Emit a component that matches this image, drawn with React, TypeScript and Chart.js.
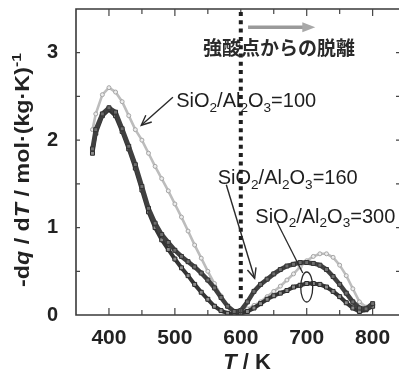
import React, { useEffect, useRef } from 'react';
import { Chart, registerables } from 'chart.js';

Chart.register(...registerables);

const temps = [375, 380, 390, 400, 410, 420, 430, 440, 450, 460, 470, 480, 490, 500, 510, 520, 530, 540, 550, 560, 570, 580, 590, 600, 610, 620, 630, 640, 650, 660, 670, 680, 690, 700, 710, 720, 730, 740, 750, 760, 770, 780, 790, 800];

const ratio100 = [2.12, 2.3, 2.52, 2.6, 2.55, 2.44, 2.28, 2.12, 2.0, 1.85, 1.7, 1.56, 1.42, 1.27, 1.12, 0.96, 0.8, 0.65, 0.5, 0.36, 0.22, 0.1, 0.04, 0.03, 0.07, 0.11, 0.15, 0.21, 0.27, 0.33, 0.4, 0.47, 0.55, 0.62, 0.67, 0.7, 0.7, 0.66, 0.57, 0.45, 0.3, 0.15, 0.09, 0.12];

const ratio160 = [1.9, 2.12, 2.3, 2.37, 2.32, 2.13, 1.93, 1.72, 1.47, 1.22, 1.05, 0.92, 0.83, 0.74, 0.67, 0.61, 0.55, 0.48, 0.4, 0.31, 0.2, 0.1, 0.04, 0.05, 0.15, 0.27, 0.35, 0.41, 0.47, 0.52, 0.56, 0.58, 0.6, 0.6, 0.59, 0.57, 0.52, 0.44, 0.35, 0.25, 0.15, 0.08, 0.07, 0.13];

const ratio300 = [1.85, 2.08, 2.28, 2.35, 2.28, 2.1, 1.9, 1.68, 1.43, 1.18, 1.0, 0.86, 0.75, 0.64, 0.54, 0.45, 0.35, 0.26, 0.18, 0.1, 0.05, 0.02, 0.01, 0.02, 0.04, 0.08, 0.13, 0.18, 0.22, 0.25, 0.28, 0.32, 0.34, 0.36, 0.36, 0.35, 0.32, 0.27, 0.21, 0.14, 0.08, 0.04, 0.06, 0.1];

const xTickLabels = [400, 500, 600, 700, 800];
const yTickLabels = [0, 1, 2, 3];
const boundaryT = 600;
const headerText = '強酸点からの脱離';

const FONT = "'Liberation Sans', Arial, Helvetica, sans-serif";
const CJK = "'Noto Sans CJK JP', 'Noto Sans CJK SC', sans-serif";

type Part = { t: string; it?: boolean; sub?: boolean; sup?: boolean };

function partFont(p: Part, size: number, bold: boolean) {
  const s = p.sub || p.sup ? size * 0.68 : size;
  return `${p.it ? 'italic ' : ''}${bold ? 'bold ' : ''}${s}px ${FONT}`;
}

function richWidth(ctx: CanvasRenderingContext2D, parts: Part[], size: number, bold: boolean) {
  let w = 0;
  for (const p of parts) {
    ctx.font = partFont(p, size, bold);
    w += ctx.measureText(p.t).width;
  }
  return w;
}

function drawRich(ctx: CanvasRenderingContext2D, parts: Part[], x: number, yMid: number, size: number, bold: boolean, color: string) {
  const base = yMid + size * 0.36;
  let cx = x;
  ctx.fillStyle = color;
  ctx.textAlign = 'left';
  ctx.textBaseline = 'alphabetic';
  for (const p of parts) {
    ctx.font = partFont(p, size, bold);
    let dy = 0;
    if (p.sub) dy = size * 0.24;
    if (p.sup) dy = -size * 0.42;
    ctx.fillText(p.t, cx, base + dy);
    cx += ctx.measureText(p.t).width;
  }
}

function ratioParts(n: string): Part[] {
  return [
    { t: 'SiO' }, { t: '2', sub: true }, { t: '/Al' }, { t: '2', sub: true },
    { t: 'O' }, { t: '3', sub: true }, { t: '=' + n },
  ];
}

function arrowLine(ctx: CanvasRenderingContext2D, x1: number, y1: number, x2: number, y2: number, head: boolean) {
  ctx.beginPath();
  ctx.moveTo(x1, y1);
  ctx.lineTo(x2, y2);
  ctx.stroke();
  if (head) {
    const a = Math.atan2(y2 - y1, x2 - x1);
    const L = 11, sp = 0.42;
    ctx.beginPath();
    ctx.moveTo(x2 - L * Math.cos(a - sp), y2 - L * Math.sin(a - sp));
    ctx.lineTo(x2, y2);
    ctx.lineTo(x2 - L * Math.cos(a + sp), y2 - L * Math.sin(a + sp));
    ctx.stroke();
  }
}

const overlay = {
  id: 'overlay',
  afterDraw(chart: any) {
    const { ctx, chartArea, scales } = chart;
    const { left, top, right, bottom } = chartArea;
    const xs = scales.x, ys = scales.y;
    const X = (v: number) => xs.getPixelForValue(v);
    const Y = (v: number) => ys.getPixelForValue(v);
    ctx.save();

    // frame
    ctx.strokeStyle = '#3a3a3a';
    ctx.lineWidth = 1.6;
    ctx.beginPath();
    ctx.moveTo(right, top);
    ctx.lineTo(left, top);
    ctx.lineTo(left, bottom);
    ctx.lineTo(right, bottom);
    ctx.stroke();

    // ticks
    ctx.lineWidth = 1.2;
    ctx.strokeStyle = '#444';
    for (let v = 400; v <= 800; v += 50) {
      const px = X(v);
      const L = v % 100 === 0 ? 7 : 5;
      ctx.beginPath();
      ctx.moveTo(px, bottom); ctx.lineTo(px, bottom - L);
      ctx.moveTo(px, top); ctx.lineTo(px, top + L);
      ctx.stroke();
    }
    for (let v = 0.5; v < 3.5; v += 0.5) {
      const py = Y(v);
      ctx.beginPath();
      ctx.moveTo(left, py); ctx.lineTo(left + 4, py);
      ctx.moveTo(right, py); ctx.lineTo(right - 3, py);
      ctx.stroke();
    }

    // dotted boundary line
    ctx.save();
    ctx.strokeStyle = '#1e1e1e';
    ctx.lineWidth = 4;
    ctx.setLineDash([4, 4.3]);
    ctx.beginPath();
    ctx.moveTo(X(boundaryT), top + 3);
    ctx.lineTo(X(boundaryT), Y(0.17));
    ctx.stroke();
    ctx.restore();

    // top arrow
    const ax1 = X(611), ax2 = X(713), ay = Y(3.29);
    ctx.strokeStyle = '#9a9a9a';
    ctx.lineWidth = 3.5;
    ctx.beginPath();
    ctx.moveTo(ax1, ay); ctx.lineTo(ax2 - 10, ay);
    ctx.stroke();
    ctx.fillStyle = '#a8a8a8';
    ctx.beginPath();
    ctx.moveTo(ax2 - 13, ay - 5);
    ctx.lineTo(ax2, ay);
    ctx.lineTo(ax2 - 13, ay + 5);
    ctx.closePath();
    ctx.fill();

    // header japanese text
    ctx.fillStyle = '#2a2a2a';
    ctx.font = `bold 19px ${CJK}`;
    ctx.textAlign = 'center';
    ctx.textBaseline = 'middle';
    ctx.fillText(headerText, X(658), Y(3.06));

    // annotations
    ctx.strokeStyle = '#2a2a2a';
    ctx.lineWidth = 1.4;
    drawRich(ctx, ratioParts('100'), X(502), Y(2.46), 20, false, '#1e1e1e');
    arrowLine(ctx, X(497), Y(2.49), X(449), Y(2.17), true);
    drawRich(ctx, ratioParts('160'), X(565), Y(1.58), 20, false, '#1e1e1e');
    ctx.strokeStyle = '#2a2a2a';
    ctx.lineWidth = 1.4;
    arrowLine(ctx, X(578), Y(1.49), X(621), Y(0.42), true);
    drawRich(ctx, ratioParts('300'), X(622), Y(1.14), 20, false, '#1e1e1e');
    ctx.strokeStyle = '#2a2a2a';
    ctx.lineWidth = 1.3;
    arrowLine(ctx, X(655), Y(1.06), X(694), Y(0.48), false);
    ctx.beginPath();
    ctx.ellipse(X(700), Y(0.32), 6, 15, 0, 0, Math.PI * 2);
    ctx.stroke();

    // y title
    const yParts: Part[] = [
      { t: '-d' }, { t: 'q', it: true }, { t: ' / d' }, { t: 'T', it: true },
      { t: ' / mol·(kg·K)' }, { t: '-1', sup: true },
    ];
    const yw = richWidth(ctx, yParts, 20, true);
    const target = 234;
    ctx.save();
    ctx.translate(22, 170);
    ctx.rotate(-Math.PI / 2);
    ctx.scale(target / yw, 1);
    drawRich(ctx, yParts, -yw / 2, 0, 20, true, '#222');
    ctx.restore();

    // x title
    const xParts: Part[] = [{ t: 'T', it: true }, { t: ' / K' }];
    const xw = richWidth(ctx, xParts, 22, true);
    drawRich(ctx, xParts, 247 - xw / 2, 361, 22, true, '#222');

    ctx.restore();
  },
};

export default function App() {
  const ref = useRef<HTMLCanvasElement | null>(null);

  useEffect(() => {
    document.body.style.margin = '0';
    const canvas = ref.current;
    if (!canvas) return;
    const mk = (vals: number[]) => temps.map((t, i) => ({ x: t, y: vals[i] }));
    const chart = new Chart(canvas, {
      type: 'scatter',
      data: {
        datasets: [
          {
            label: 'SiO2/Al2O3=160',
            data: mk(ratio160),
            showLine: true,
            borderColor: '#404040',
            borderWidth: 4.5,
            pointStyle: 'rect',
            pointRadius: 2.8,
            pointBackgroundColor: '#6e6e6e',
            pointBorderColor: '#333',
            pointBorderWidth: 1,
            order: 1,
          },
          {
            label: 'SiO2/Al2O3=300',
            data: mk(ratio300),
            showLine: true,
            borderColor: '#353535',
            borderWidth: 4,
            pointStyle: 'rect',
            pointRadius: 2.8,
            pointBackgroundColor: '#8c8c8c',
            pointBorderColor: '#2a2a2a',
            pointBorderWidth: 1,
            order: 2,
          },
          {
            label: 'SiO2/Al2O3=100',
            data: mk(ratio100),
            showLine: true,
            borderColor: '#bdbdbd',
            borderWidth: 2.6,
            pointStyle: 'circle',
            pointRadius: 2,
            pointBackgroundColor: '#ececec',
            pointBorderColor: '#a5a5a5',
            pointBorderWidth: 1,
            order: 3,
          },
        ],
      },
      options: {
        animation: false,
        responsive: false,
        maintainAspectRatio: false,
        layout: { padding: { top: 9, right: 0, bottom: 0, left: 0 } },
        plugins: { legend: { display: false }, tooltip: { enabled: false } },
        scales: {
          x: {
            type: 'linear',
            min: 350,
            max: 840,
            grid: { display: false, drawTicks: false },
            border: { display: false },
            afterBuildTicks: (s: any) => { s.ticks = xTickLabels.map((v) => ({ value: v })); },
            afterFit: (s: any) => { s.height = 54; s.paddingLeft = 0; s.paddingRight = 0; s.paddingTop = 0; s.paddingBottom = 0; },
            ticks: {
              font: { family: FONT, size: 21, weight: 'bold' },
              color: '#222',
              padding: 11,
              maxRotation: 0,
              autoSkip: false,
            },
          },
          y: {
            min: 0,
            max: 3.5,
            grid: { display: false, drawTicks: false },
            border: { display: false },
            afterBuildTicks: (s: any) => { s.ticks = yTickLabels.map((v) => ({ value: v })); },
            afterFit: (s: any) => { s.width = 76; s.paddingTop = 0; s.paddingBottom = 0; s.paddingLeft = 0; s.paddingRight = 0; },
            ticks: {
              font: { family: FONT, size: 20, weight: 'bold' },
              color: '#222',
              padding: 18,
              autoSkip: false,
            },
          },
        },
      },
      plugins: [overlay],
    });
    return () => chart.destroy();
  }, []);

  return (
    <div style={{ width: 404, height: 369, background: '#fff' }}>
      <canvas ref={ref} width={404} height={369} style={{ display: 'block', width: 404, height: 369 }} />
    </div>
  );
}
